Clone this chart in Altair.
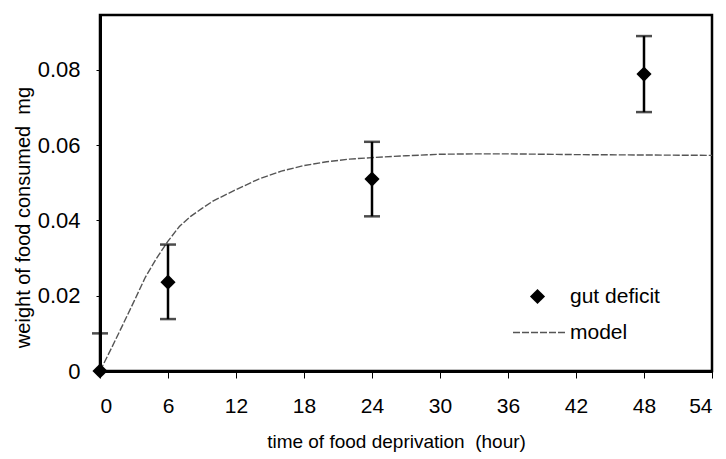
import altair as alt
import pandas as pd

# observed gut deficit (mean and error bar ends)
obs_hours = [0, 6, 24, 48]
obs_mean = [0.0, 0.0236, 0.0510, 0.0789]
obs_low = [-0.010, 0.0138, 0.0411, 0.0688]
obs_high = [0.010, 0.0336, 0.0609, 0.0890]

# model curve
model_hours = [0, 1, 2, 3, 4, 5, 6, 7, 8, 9, 10, 12, 14, 16, 18, 20, 22, 24, 27, 30, 33, 36, 42, 48, 54]
model_weight = [0.0, 0.0060, 0.0122, 0.0185, 0.0249, 0.0300, 0.0345, 0.0384, 0.0411, 0.0432, 0.0452,
                0.0482, 0.0510, 0.0531, 0.0546, 0.0556, 0.0563, 0.0567, 0.0572, 0.0576, 0.0577,
                0.0577, 0.0575, 0.0574, 0.0573]

x_ticks = [0, 6, 12, 18, 24, 30, 36, 42, 48, 54]
y_ticks = [0, 0.02, 0.04, 0.06, 0.08]

obs = pd.DataFrame({"hour": obs_hours, "weight": obs_mean, "low": obs_low,
                    "high": obs_high, "series": ["gut deficit"] * len(obs_hours)})
model = pd.DataFrame({"hour": model_hours, "weight": model_weight,
                      "series": ["model"] * len(model_hours)})

FONT = "Liberation Sans"

x_enc = alt.X("hour:Q", scale=alt.Scale(domain=[0, 54], nice=False, zero=False),
              axis=alt.Axis(values=x_ticks, title="time of food deprivation\u00a0 (hour)",
                            labelFontSize=21, tickSize=7, labelPadding=17,
                            titleFontSize=19, titleFontWeight="normal",
                            titleX=296, titleY=76, titleBaseline="alphabetic"))
y_scale = alt.Scale(domain=[0, 0.0946], nice=False, zero=False)
y_axis = alt.Axis(values=y_ticks, title="weight of food consumed\u00a0 mg",
                  labelExpr="datum.value == 0 ? '0' : format(datum.value, '.2f')",
                  labelFontSize=22, tickSize=4, labelPadding=16,
                  titleFontSize=20, titleFontWeight="normal",
                  titleX=-71, titleY=202, titleBaseline="alphabetic", titleAngle=-90)

line = alt.Chart(model).mark_line(color="#555555", strokeWidth=1.4).encode(
    x=x_enc,
    y=alt.Y("weight:Q", scale=y_scale, axis=y_axis),
    strokeDash=alt.StrokeDash("series:N", scale=alt.Scale(range=[[7, 2]]),
                              legend=alt.Legend(orient="none", legendX=412, legendY=290,
                                                title=None, symbolType="stroke",
                                                symbolSize=2809, symbolStrokeWidth=1.4,
                                                symbolStrokeColor="#555555",
                                                labelFontSize=21, labelFont=FONT,
                                                labelOffset=3, padding=0)),
)

bars = alt.Chart(obs).mark_rule(color="black", strokeWidth=2.5, clip=True).encode(
    x="hour:Q", y=alt.Y("low:Q", scale=y_scale), y2="high:Q")

caps_low = alt.Chart(obs).mark_tick(color="black", orient="horizontal", size=16,
                                    thickness=2.5, clip=True).encode(
    x="hour:Q", y=alt.Y("low:Q", scale=y_scale))
caps_high = alt.Chart(obs).mark_tick(color="black", orient="horizontal", size=16,
                                     thickness=2.5).encode(
    x="hour:Q", y=alt.Y("high:Q", scale=y_scale))

points = alt.Chart(obs).mark_point(filled=True, color="black", size=230, opacity=1).encode(
    x="hour:Q",
    y=alt.Y("weight:Q", scale=y_scale),
    shape=alt.Shape("series:N", scale=alt.Scale(range=["diamond"]),
                    legend=alt.Legend(orient="none", legendX=427, legendY=271,
                                      title=None, symbolSize=230,
                                      symbolFillColor="black", symbolStrokeColor="black",
                                      labelFontSize=21, labelFont=FONT,
                                      labelOffset=22, padding=0)),
)

chart = alt.layer(line, bars, caps_low, caps_high, points).properties(
    width=612, height=356,
    autosize="none",
    padding={"left": 92, "top": 7, "right": 6, "bottom": 86},
).configure_view(
    stroke="black", strokeWidth=2.5
).configure_axis(
    labelFont=FONT, titleFont=FONT, labelColor="black", titleColor="black",
    domainColor="black", domainWidth=3, tickColor="black", tickWidth=1,
    grid=False,
).configure_legend(
    labelColor="black"
)

chart.save("out.html", embed_options={"renderer": "svg", "actions": False})
